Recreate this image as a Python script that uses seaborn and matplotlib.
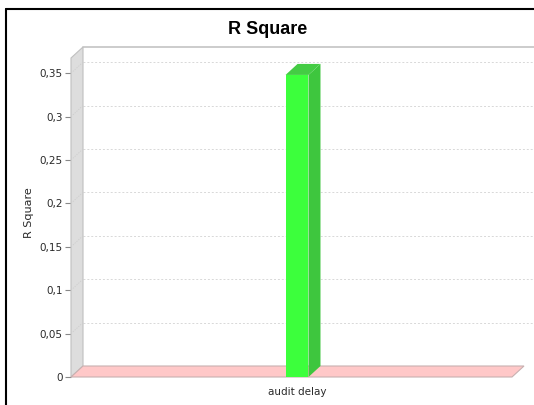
import numpy as np
import pandas as pd
import matplotlib
matplotlib.use("Agg")
import matplotlib.pyplot as plt
import seaborn as sns
from matplotlib.patches import Polygon
from matplotlib.lines import Line2D
from matplotlib.transforms import IdentityTransform

# ---- data ----
categories = ["audit delay"]
r_square = [0.348]
y_ticks = [0, 0.05, 0.1, 0.15, 0.2, 0.25, 0.3, 0.35]
y_tick_labels = ["0", "0,05", "0,1", "0,15", "0,2", "0,25", "0,3", "0,35"]
title = "R Square"
y_label = "R Square"

# ---- style ----
sns.set_style("white")
plt.rcParams['font.family'] = ['DejaVu Sans']

W, H, DPI = 534, 405, 100
DX, DY = 12, 11  # 3D depth offset in pixels

fig = plt.figure(figsize=(W / DPI, H / DPI), dpi=DPI)
fig.patch.set_facecolor("white")
ax = fig.add_axes([71 / W, 1 - 377 / H, 441 / W, (377 - 58) / H])
ax.set_facecolor("none")

df = pd.DataFrame({"category": categories, "value": r_square})
sns.barplot(data=df, x="category", y="value", ax=ax, color="#3cff3c",
            width=0.052, saturation=1, zorder=6, linewidth=0)

ax.set_xlim(-0.5125, 0.4875)
ax.set_ylim(0, 0.3675)
for s in ax.spines.values():
    s.set_visible(False)

ax.set_yticks(y_ticks)
ax.set_yticklabels(y_tick_labels)
ax.tick_params(axis="y", left=True, length=4, width=0.8, color="#888888",
               labelsize=7.5, labelcolor="#2a2a2a", pad=2)
ax.tick_params(axis="x", bottom=False, length=0, labelsize=7.5,
               labelcolor="#2a2a2a", pad=7)
ax.set_xlabel("")
ax.set_ylabel(y_label, fontsize=8, color="#2a2a2a")
ax.yaxis.set_label_coords(-0.083, 0.514)
ax.grid(False)

fig.canvas.draw()
T = ax.transData
x0, x1 = ax.get_xlim()
y0, y1 = ax.get_ylim()
ID = IdentityTransform()


def P(x, y, back=False):
    px, py = T.transform((x, y))
    if back:
        px, py = px + DX, py + DY
    return (px, py)


# back wall gridlines (dashed) + top outline
far_right = W + 20
for yv in y_ticks[1:]:
    a = P(x0, yv, True)
    ax.add_line(Line2D([a[0], far_right], [a[1], a[1]], transform=ID,
                       color="#d8d8d8", lw=0.7, ls=(0, (2, 2)), clip_on=False, zorder=1))
    f = P(x0, yv)
    ax.add_line(Line2D([f[0], a[0]], [f[1], a[1]], transform=ID,
                       color="#cccccc", lw=0.6, ls=(0, (1.5, 1.5)), clip_on=False, zorder=3))
a = P(x0, y1, True)
ax.add_line(Line2D([a[0], far_right], [a[1], a[1]], transform=ID,
                   color="#c4c4c4", lw=1.2, clip_on=False, zorder=1))

# left wall
lw_pts = [P(x0, y0), P(x0, y1), P(x0, y1, True), P(x0, y0, True)]
ax.add_patch(Polygon(lw_pts, closed=True, transform=ID, facecolor="#dddddd",
                     edgecolor="#c0c0c0", lw=0.8, clip_on=False, zorder=2))

# floor
fl_pts = [P(x0, y0), P(x1, y0), P(x1, y0, True), P(x0, y0, True)]
ax.add_patch(Polygon(fl_pts, closed=True, transform=ID, facecolor="#ffc8c8",
                     edgecolor="#c8b0b0", lw=0.8, clip_on=False, zorder=4))

# bar side and top from the seaborn bar
for bar in ax.patches:
    if not isinstance(bar, matplotlib.patches.Rectangle):
        continue
    bx0 = bar.get_x()
    bx1 = bx0 + bar.get_width()
    h = bar.get_height()
    side = [P(bx1, 0), P(bx1, h), P(bx1, h, True), P(bx1, 0, True)]
    top = [P(bx0, h), P(bx1, h), P(bx1, h, True), P(bx0, h, True)]
    ax.add_patch(Polygon(side, closed=True, transform=ID, facecolor="#3ec63e",
                         edgecolor="none", clip_on=False, zorder=7))
    ax.add_patch(Polygon(top, closed=True, transform=ID, facecolor="#44cc44",
                         edgecolor="none", clip_on=False, zorder=7))

# title
fig.text(268 / W, 1 - 29 / H, title, ha="center", va="center", color="black",
         fontsize=13, fontweight="bold", family="Liberation Sans")

# frame border (top and left)
fig.add_artist(Line2D([6 / W, 6 / W], [0, 1 - 9 / H], color="black", lw=1.5,
                      transform=fig.transFigure))
fig.add_artist(Line2D([6 / W, 1], [1 - 9 / H, 1 - 9 / H], color="black", lw=1.5,
                      transform=fig.transFigure))

fig.savefig("out.png", dpi=DPI)
